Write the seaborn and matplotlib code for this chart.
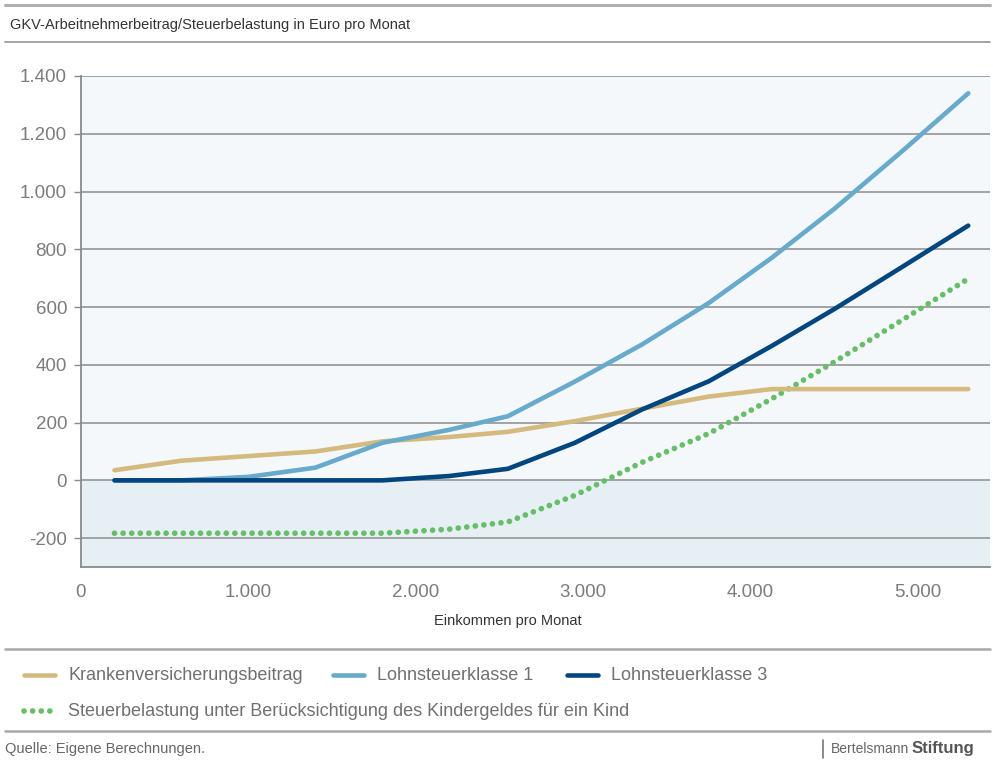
import matplotlib
matplotlib.use("Agg")
import matplotlib.pyplot as plt
from matplotlib.lines import Line2D
from matplotlib.ticker import FuncFormatter, FixedLocator
import seaborn as sns
import pandas as pd

# Monthly gross income (Euro)
einkommen = [200, 600, 1000, 1400, 1800, 2200, 2550, 2950, 3350, 3750, 4125, 4500, 4900, 5300]

# Employee health insurance contribution and income tax (Euro per month)
krankenversicherung = [35, 68, 84, 100, 135, 150, 168, 205, 248, 290, 316, 316, 316, 316]
lohnsteuer_kl1 = [0, 0, 12, 44, 130, 175, 222, 342, 470, 614, 770, 940, 1137, 1340]
lohnsteuer_kl3 = [0, 0, 0, 0, 0, 15, 40, 130, 245, 343, 465, 593, 737, 882]
steuer_kindergeld = [-183, -183, -183, -183, -183, -169, -144, -52, 62, 162, 282, 410, 553, 698]

labels = [
    "Krankenversicherungsbeitrag",
    "Lohnsteuerklasse 1",
    "Lohnsteuerklasse 3",
    "Steuerbelastung unter Berücksichtigung des Kindergeldes für ein Kind",
]
colors = ["#d5ba80", "#68aacb", "#02467f", "#67be68"]
x_ticks = [0, 1000, 2000, 3000, 4000, 5000]
y_ticks = [-200, 0, 200, 400, 600, 800, 1000, 1200, 1400]

sns.set_theme(style="white")
plt.rcParams["font.family"] = ["Liberation Sans", "DejaVu Sans"]

W, H = 993, 762
fig = plt.figure(figsize=(W / 100, H / 100), dpi=100)
ax = fig.add_axes([81 / W, 1 - 567 / H, (990 - 81) / W, (567 - 76) / H])

ax.set_xlim(0, 5430)
ax.set_ylim(-300, 1400)

# background bands above and below zero
ax.axhspan(0, 1400, color="#f4f8fb", zorder=0, lw=0)
ax.axhspan(-300, 0, color="#e5eff4", zorder=0, lw=0)
for yv in y_ticks:
    ax.axhline(yv, color="#9c9c9c", lw=1.3, zorder=1)

frame = pd.DataFrame({
    "Einkommen": einkommen,
    labels[0]: krankenversicherung,
    labels[1]: lohnsteuer_kl1,
    labels[2]: lohnsteuer_kl3,
    labels[3]: steuer_kindergeld,
})

lw = 3.3
dot_lw = 4.1
dot_pattern = (0, (0.01, 1.5))
for i, lab in enumerate(labels):
    sns.lineplot(data=frame, x="Einkommen", y=lab, ax=ax, color=colors[i],
                 lw=lw if i < 3 else dot_lw, sort=False,
                 zorder=3 + (i if i < 3 else -1))
for i, line in enumerate(ax.get_lines()[len(y_ticks):]):
    line.set_solid_capstyle("round")
    line.set_solid_joinstyle("round")
    if i == 3:
        line.set_linestyle(dot_pattern)
        line.set_dash_capstyle("round")

ax.set_xlabel("")
ax.set_ylabel("")
ax.xaxis.set_major_locator(FixedLocator(x_ticks))
ax.yaxis.set_major_locator(FixedLocator(y_ticks))
fmt = FuncFormatter(lambda v, p: f"{int(v):,}".replace(",", "."))
ax.xaxis.set_major_formatter(fmt)
ax.yaxis.set_major_formatter(fmt)
ax.tick_params(axis="x", length=0, pad=12, labelsize=13.5, labelcolor="#7c7c7c")
ax.tick_params(axis="y", left=True, length=5, width=1, color="#8a8a8a", pad=5,
               labelsize=13.5, labelcolor="#7c7c7c")

for side in ["top", "right"]:
    ax.spines[side].set_visible(False)
for side in ["left", "bottom"]:
    ax.spines[side].set_color("#8a8a8a")
    ax.spines[side].set_linewidth(1.3)
    ax.spines[side].set_zorder(6)

fig.text(508 / W, 1 - 621 / H, "Einkommen pro Monat", ha="center", va="center",
         fontsize=10.5, color="#333333")

# header
def hline(y, lw_, col, x0=5, x1=990):
    fig.add_artist(Line2D([x0 / W, x1 / W], [1 - y / H] * 2, color=col, lw=lw_,
                          transform=fig.transFigure))

hline(5, 2.2, "#b0b0b0")
hline(42, 1.3, "#9c9c9c")
fig.text(10 / W, 1 - 25 / H, "GKV-Arbeitnehmerbeitrag/Steuerbelastung in Euro pro Monat",
         ha="left", va="center", fontsize=10.5, color="#333333")

# legend
hline(649, 1.8, "#a8a8a8")
entries = [
    (0, 22, 675), (1, 331, 675), (2, 565, 675), (3, 22, 711),
]
for i, x0, y0 in entries:
    yy = 1 - y0 / H
    h = Line2D([(x0 + 2) / W, (x0 + 33) / W], [yy, yy], color=colors[i], lw=lw,
               transform=fig.transFigure, solid_capstyle="round")
    if i == 3:
        h.set_linewidth(dot_lw)
        h.set_linestyle(dot_pattern)
        h.set_dash_capstyle("round")
    fig.add_artist(h)
    fig.text((x0 + 46) / W, yy, labels[i], ha="left", va="center",
             fontsize=13, color="#707070")

# footer
hline(731, 1.8, "#a8a8a8")
fig.text(5 / W, 1 - 749 / H, "Quelle: Eigene Berechnungen.", ha="left", va="center",
         fontsize=10.5, color="#666666")
fig.add_artist(Line2D([823 / W] * 2, [1 - 740 / H, 1 - 758 / H], color="#777777", lw=1.2,
                      transform=fig.transFigure))
t1 = fig.text(831 / W, 1 - 749 / H, "Bertelsmann", ha="left", va="center",
              fontsize=10, color="#666666")
fig.canvas.draw()
bb = t1.get_window_extent()
fig.text(bb.x1 / W + 2 / W, 1 - 749 / H, "Stiftung", ha="left", va="center",
         fontsize=12, color="#555555", fontweight="bold")

fig.savefig("out.png", dpi=100)
